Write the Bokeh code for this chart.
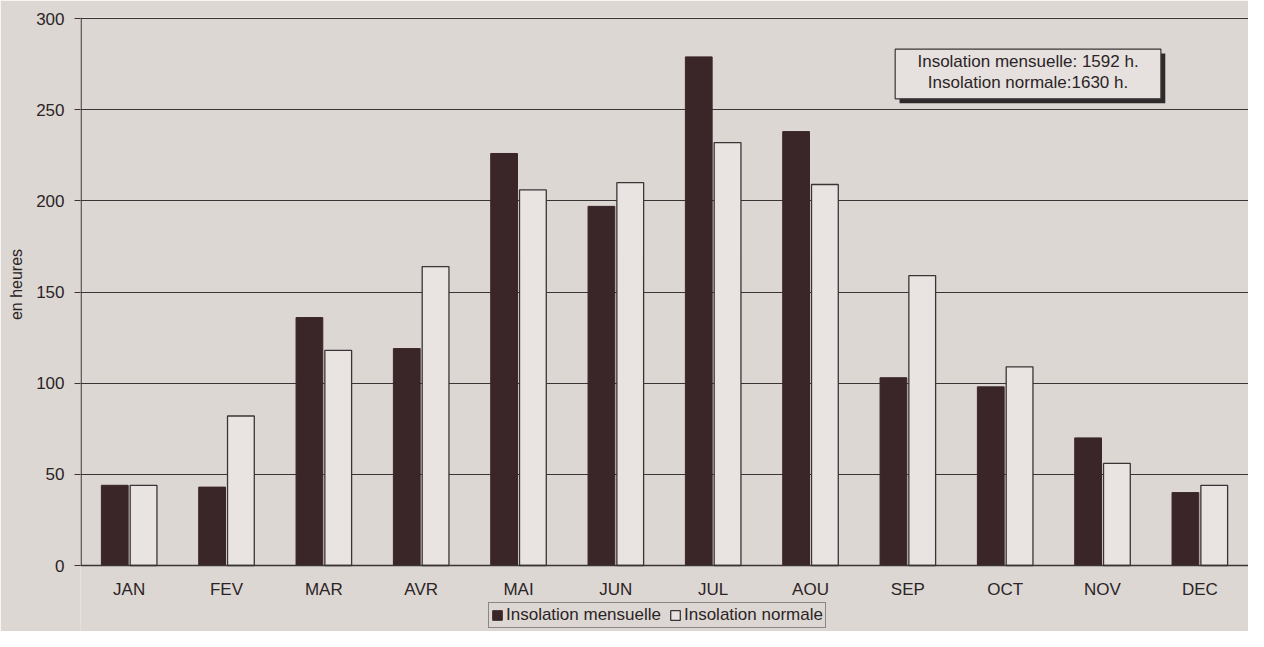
from bokeh.plotting import figure
from bokeh.models import (Range1d, FactorRange, Legend, LegendItem, ColumnDataSource,
                          FixedTicker)
from bokeh.transform import dodge
from bokeh.core.properties import value
from bokeh.embed import file_html
from bokeh.resources import INLINE

months = ["JAN", "FEV", "MAR", "AVR", "MAI", "JUN", "JUL", "AOU", "SEP", "OCT", "NOV", "DEC"]
insolation_mensuelle = [44, 43, 136, 119, 226, 197, 279, 238, 103, 98, 70, 40]
insolation_normale = [44, 82, 118, 164, 206, 210, 232, 209, 159, 109, 56, 44]
y_ticks = [0, 50, 100, 150, 200, 250, 300]
total_mensuelle = 1592
total_normale = 1630

BG = "#ddd7d3"
DARK = "#3a2628"
LIGHT = "#e9e4e1"
INK = "#2b2426"
LINE = "#3b3437"
FONT = "Liberation Sans"

Y_TOP = 300.6
Y_BOTTOM = -36.2   # room below the baseline for month labels and legend

src = ColumnDataSource(dict(month=months, mens=insolation_mensuelle, norm=insolation_normale,
                            base=[0] * len(months)))

p = figure(frame_width=1168, frame_height=614, x_range=FactorRange(*months),
           y_range=Range1d(Y_BOTTOM, Y_TOP),
           output_backend="svg", toolbar_location=None,
           min_border_left=80, min_border_right=0, min_border_top=17, min_border_bottom=0,
           background_fill_color=BG, border_fill_color=BG, outline_line_color=None)

r1 = p.vbar(x=dodge("month", -0.148, range=p.x_range), top="mens", width=0.275, source=src,
            fill_color=DARK, line_color=DARK, line_width=1)
r2 = p.vbar(x=dodge("month", 0.148, range=p.x_range), top="norm", width=0.275, source=src,
            fill_color=LIGHT, line_color=LINE, line_width=1.3)

# grid
p.xgrid.grid_line_color = None
p.ygrid.grid_line_color = LINE
p.ygrid.grid_line_width = 1.2
p.ygrid.ticker = FixedTicker(ticks=y_ticks)
p.ygrid.level = "underlay"

# baseline and left axis line (stop at 0 like the original)
p.segment(x0=[0], x1=[len(months)], y0=[0], y1=[0], line_color=LINE, line_width=1.6)
p.segment(x0=[0.006], x1=[0.006], y0=[0], y1=[Y_TOP], line_color=LINE, line_width=1.3)

# month labels under the baseline
p.text(x="month", y="base", text="month", source=src, y_offset=14,
       text_font=value(FONT), text_font_size="17px", text_color=INK,
       text_align="center", text_baseline="top")
p.xaxis.visible = False

# y axis
p.yaxis.ticker = FixedTicker(ticks=y_ticks)
p.yaxis.minor_tick_line_color = None
p.yaxis.major_tick_out = 6
p.yaxis.major_tick_in = 0
p.yaxis.major_tick_line_color = LINE
p.yaxis.axis_line_color = None
p.yaxis.major_label_text_font = FONT
p.yaxis.major_label_text_font_size = "17px"
p.yaxis.major_label_text_color = INK
p.yaxis.major_label_standoff = 10
p.yaxis.axis_label = "\u00a0" * 18 + "en heures"
p.yaxis.axis_label_text_font = FONT
p.yaxis.axis_label_text_font_size = "16px"
p.yaxis.axis_label_text_font_style = "normal"
p.yaxis.axis_label_text_color = INK
p.yaxis.axis_label_standoff = 8

# annotation box with drop shadow (numeric positions on the factor axis)
BOX_X0, BOX_X1, BOX_Y0, BOX_Y1 = 8.37, 11.10, 256.0, 283.2
SH_DX, SH_DY = 0.045, 2.4
p.quad(left=[BOX_X0 + SH_DX], right=[BOX_X1 + SH_DX], bottom=[BOX_Y0 - SH_DY], top=[BOX_Y1 - SH_DY],
       fill_color="#2e2a2c", line_color=None)
p.quad(left=[BOX_X0], right=[BOX_X1], bottom=[BOX_Y0], top=[BOX_Y1],
       fill_color="#e6e1de", line_color=LINE, line_width=1.2)
box_lines = ["Insolation mensuelle: %d h." % total_mensuelle,
             "Insolation normale:%d h." % total_normale]
p.text(x=[(BOX_X0 + BOX_X1) / 2] * 2, y=[276.6, 264.8], text=box_lines,
       text_font=value(FONT), text_font_size="17px", text_color=INK,
       text_align="center", text_baseline="middle")

legend = Legend(items=[LegendItem(label="Insolation mensuelle", renderers=[r1]),
                       LegendItem(label="Insolation normale", renderers=[r2])],
                orientation="horizontal", location=(408, 3),
                border_line_color=LINE, border_line_width=1.2,
                background_fill_color=BG, background_fill_alpha=1,
                label_text_font=FONT, label_text_font_size="17px", label_text_color=INK,
                glyph_width=12, glyph_height=12, label_standoff=3, spacing=8,
                padding=2, margin=0, label_height=18)
p.add_layout(legend, "center")

open("out.html", "w").write(file_html(p, INLINE))
